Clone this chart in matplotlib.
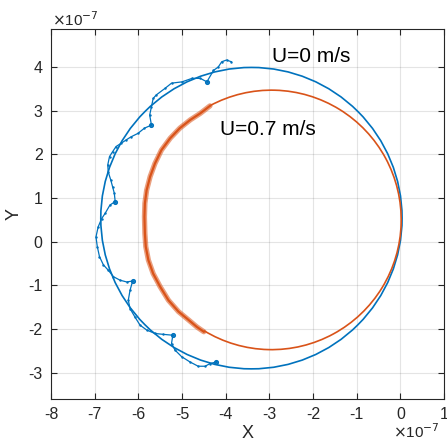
import numpy as np
import matplotlib
matplotlib.use("Agg")
import matplotlib.pyplot as plt
from matplotlib.patches import Circle, Arc

plt.rcParams['font.family'] = ['Liberation Sans', 'DejaVu Sans']
plt.rcParams['axes.unicode_minus'] = False

# all positions in units of 1e-7
BLUE = '#0072BD'
ORANGE = '#D95319'

# fitted orbits (centre x, centre y, radius)
orbit_u0 = (-3.41, 0.54, 3.45)
orbit_u07 = (-2.95, 0.50, 2.97)
arc_u07_deg = (-121.4, 118.3)   # solid part of the U=0.7 orbit

# tracked particle, U=0 m/s
track0_x = [-3.87, -3.98, -4.09, -4.17, -4.28, -4.43, -4.58, -4.77, -5.00, -5.24,
            -5.39, -5.59, -5.66, -5.70, -5.74, -5.70, -5.86, -6.01, -6.17, -6.28,
            -6.40, -6.51, -6.59, -6.66, -6.70, -6.69, -6.63, -6.59, -6.55, -6.53,
            -6.65, -6.76, -6.84, -6.92, -6.97, -6.94, -6.89, -6.80, -6.69, -6.57,
            -6.42, -6.27, -6.13, -6.19, -6.23, -6.19, -6.08, -5.96, -5.81, -5.62,
            -5.43, -5.21, -5.24, -5.16, -5.01, -4.82, -4.63, -4.47, -4.36, -4.21]
track0_y = [4.12, 4.16, 4.12, 4.00, 3.92, 3.66, 3.74, 3.74, 3.66, 3.63,
            3.51, 3.36, 3.28, 3.09, 2.90, 2.67, 2.60, 2.48, 2.40, 2.33,
            2.25, 2.18, 2.06, 1.95, 1.76, 1.60, 1.41, 1.26, 1.11, 0.92,
            0.84, 0.65, 0.53, 0.34, 0.11, -0.11, -0.34, -0.53, -0.65, -0.80,
            -0.88, -0.92, -0.90, -1.11, -1.34, -1.53, -1.72, -1.91, -2.02, -2.10,
            -2.12, -2.14, -2.33, -2.48, -2.63, -2.75, -2.85, -2.85, -2.79, -2.75]
# small loops on the U=0 track
loops0_x = [-4.43, -5.70, -6.53, -6.13, -5.21, -4.21]
loops0_y = [3.66, 2.67, 0.92, -0.90, -2.14, -2.75]

# tracked particle, U=0.7 m/s (centre of the noisy band)
track07_x = [-4.36, -4.58, -4.81, -5.05, -5.27, -5.47, -5.62, -5.73, -5.81, -5.85,
             -5.86, -5.85, -5.83, -5.77, -5.66, -5.50, -5.31, -5.08, -4.85, -4.66, -4.50]
track07_y = [3.11, 2.94, 2.79, 2.60, 2.37, 2.10, 1.79, 1.49, 1.18, 0.88,
             0.57, 0.19, -0.11, -0.42, -0.73, -1.03, -1.34, -1.60, -1.79, -1.95, -2.06]

labels = ['U=0 m/s', 'U=0.7 m/s']
label_pos = [(-2.95, 4.25), (-4.13, 2.56)]

fig = plt.figure(figsize=(4.47, 4.43), dpi=100)
ax = fig.add_axes([51/447, 44/443, 393/447, 370/443])

ax.add_patch(Circle(orbit_u0[:2], orbit_u0[2], fill=False, color=BLUE, lw=1.2))
ax.add_patch(Arc(orbit_u07[:2], 2*orbit_u07[2], 2*orbit_u07[2],
                 theta1=arc_u07_deg[0], theta2=arc_u07_deg[1], color=ORANGE, lw=1.2))

ax.plot(track0_x, track0_y, '-', color=BLUE, lw=0.9, marker='.', ms=1.5)
ax.plot(loops0_x, loops0_y, 'o', mfc='none', mec=BLUE, ms=2.5, mew=1.2)
ax.plot(track07_x, track07_y, '-', color=ORANGE, lw=3.8, alpha=0.55, solid_capstyle='round')
ax.plot(track07_x, track07_y, '-', color=ORANGE, lw=1.6)

for txt, (tx, ty) in zip(labels, label_pos):
    ax.text(tx, ty, txt, fontsize=15, va='center', ha='left', color='black')

ax.set_xlim(-8, 1)
ax.set_ylim(-3.6, 4.87)
ax.set_xticks(np.arange(-8, 2, 1))
ax.set_yticks(np.arange(-3, 5, 1))
ax.grid(True, color='#262626', alpha=0.12, lw=0.8)
ax.set_axisbelow(True)
for s in ax.spines.values():
    s.set_color('#262626')
    s.set_linewidth(0.8)
ax.tick_params(direction='in', length=4, width=0.8, top=True, right=True,
               labelsize=11.5, colors='#262626', labelcolor='#262626', pad=6)
ax.set_xlabel('X', fontsize=13, color='#262626', labelpad=2)
ax.set_ylabel('Y', fontsize=13, color='#262626', labelpad=4)

fig.text(52/447, 1 - 20/443, r'$\times$10$^{-7}$', fontsize=11, color='#262626', va='center', ha='left')
fig.text(440/447, 2/443, r'$\times$10$^{-7}$', fontsize=11, color='#262626', va='bottom', ha='right')

fig.savefig('out.png', dpi=100)
